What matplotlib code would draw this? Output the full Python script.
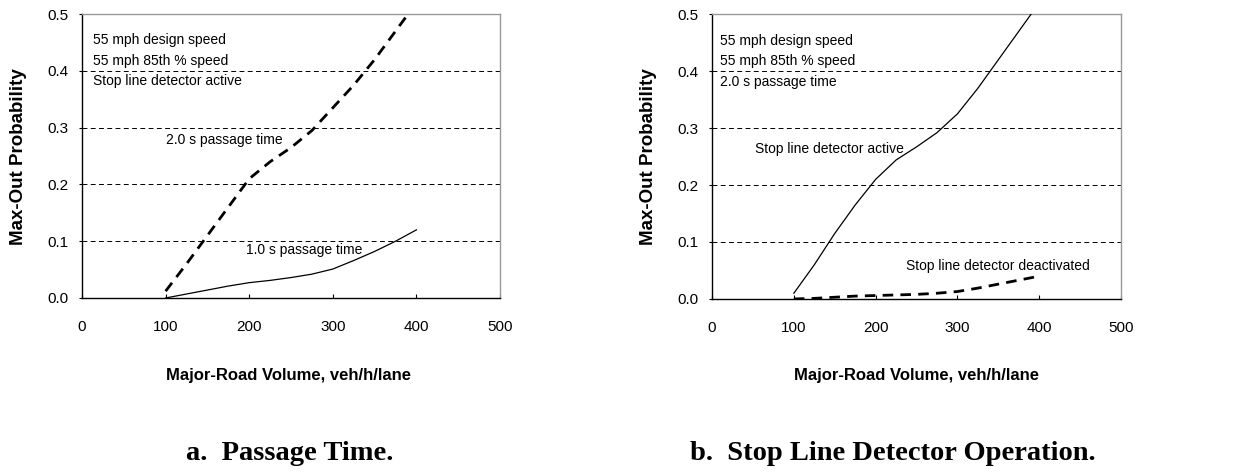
import matplotlib
matplotlib.use("Agg")
import matplotlib.pyplot as plt

plt.rcParams['font.family'] = ['Liberation Sans', 'DejaVu Sans']

# data
volume = [100, 125, 150, 175, 200, 225, 250, 275, 300, 325, 350, 375, 400]
pt_2s = [0.012, 0.06, 0.11, 0.16, 0.21, 0.24, 0.265, 0.295, 0.335, 0.375, 0.42, 0.47, 0.52]
pt_1s = [0.0, 0.007, 0.014, 0.021, 0.027, 0.031, 0.036, 0.042, 0.051, 0.066, 0.082, 0.10, 0.12]
det_active = [0.01, 0.06, 0.115, 0.165, 0.21, 0.244, 0.267, 0.292, 0.325, 0.37, 0.42, 0.47, 0.52]
det_off = [0.0, 0.001, 0.003, 0.005, 0.006, 0.007, 0.008, 0.010, 0.013, 0.019, 0.026, 0.033, 0.040]

x_ticks = [0, 100, 200, 300, 400, 500]
y_ticks = [0.0, 0.1, 0.2, 0.3, 0.4, 0.5]

notes_a = ["55 mph design speed", "55 mph 85th % speed", "Stop line detector active"]
notes_b = ["55 mph design speed", "55 mph 85th % speed", "2.0 s passage time"]

fig = plt.figure(figsize=(12.33, 4.73), dpi=100)
ax1 = fig.add_axes([0.0665, 0.370, 0.339, 0.600])
ax2 = fig.add_axes([0.5775, 0.368, 0.3317, 0.602])


def style_axes(ax):
    ax.set_xlim(0, 500)
    ax.set_ylim(0, 0.5)
    ax.set_xticks(x_ticks)
    ax.set_yticks(y_ticks)
    ax.set_yticklabels([f"{v:.1f}" for v in y_ticks])
    ax.tick_params(axis='x', direction='in', length=3, width=0.8, pad=16, labelsize=11)
    ax.tick_params(axis='y', direction='out', length=2.5, width=0.8, pad=7.5, labelsize=11)
    for v in y_ticks[1:-1]:
        ax.axhline(v, color='black', lw=0.7, ls=(0, (5, 3.5)), zorder=1)
    for s in ['left', 'bottom']:
        ax.spines[s].set_color('black')
        ax.spines[s].set_linewidth(1.0)
    for s in ['top', 'right']:
        ax.spines[s].set_color('#999999')
        ax.spines[s].set_linewidth(1.0)


style_axes(ax1)
style_axes(ax2)

# panel a
ax1.plot(volume, pt_2s, color='black', lw=2.0, ls=(0, (3.8, 2.6)), zorder=3)
ax1.plot(volume, pt_1s, color='black', lw=0.9, zorder=3)
for i, t in enumerate(notes_a):
    ax1.text(13, 0.454 - i * 0.036, t, fontsize=10, va='center', ha='left')
ax1.text(100, 0.278, "2.0 s passage time", fontsize=10, va='center', ha='left')
ax1.text(196, 0.085, "1.0 s passage time", fontsize=10, va='center', ha='left')

# panel b
ax2.plot(volume, det_active, color='black', lw=0.9, zorder=3)
ax2.plot(volume, det_off, color='black', lw=2.0, ls=(0, (3.8, 2.6)), zorder=3)
for i, t in enumerate(notes_b):
    ax2.text(9.5, 0.453 - i * 0.036, t, fontsize=10, va='center', ha='left')
ax2.text(52, 0.264, "Stop line detector active", fontsize=10, va='center', ha='left')
ax2.text(237, 0.057, "Stop line detector deactivated", fontsize=10, va='center', ha='left')

# axis titles
for xc, xl in [(18.5, 288), (648.5, 916)]:
    fig.text(xc / 1233, 1 - 157 / 473, "Max-Out Probability", rotation=90,
             fontsize=13.5, fontweight='bold', ha='center', va='center')
    fig.text(xl / 1233, 1 - 380 / 473, "Major-Road Volume, veh/h/lane",
             fontsize=12, fontweight='bold', ha='center', va='baseline')

fig.text(290 / 1233, 1 - 460 / 473, "a.  Passage Time.", family='Liberation Serif',
         fontsize=20.5, fontweight='bold', ha='center', va='baseline')
fig.text(893 / 1233, 1 - 460 / 473, "b.  Stop Line Detector Operation.", family='Liberation Serif',
         fontsize=20.5, fontweight='bold', ha='center', va='baseline')

fig.savefig("out.png", dpi=100)
